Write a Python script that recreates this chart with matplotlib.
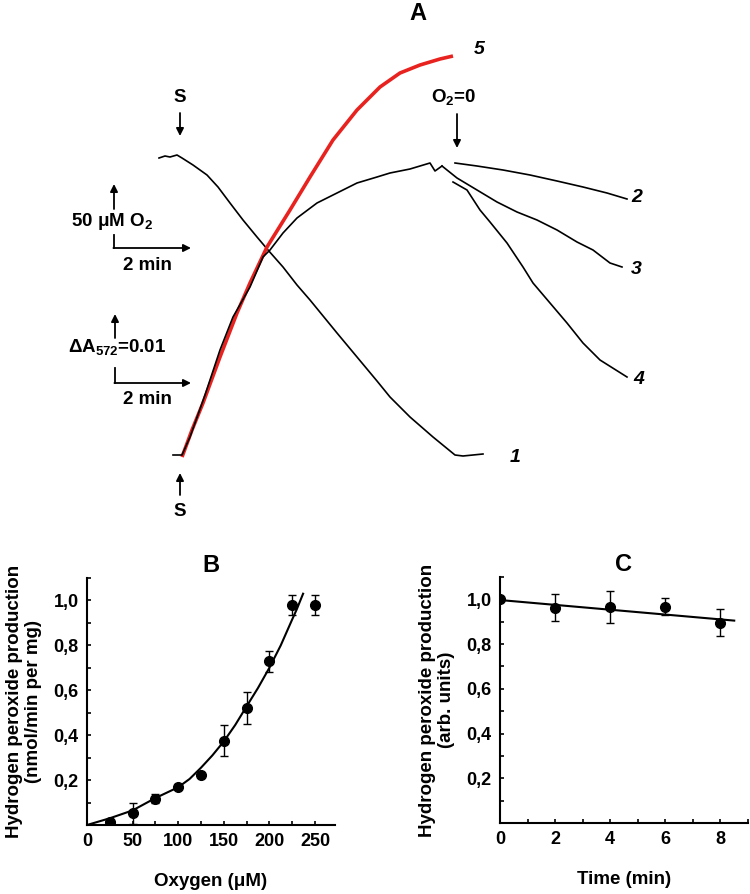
import numpy as np
import matplotlib.pyplot as plt
from matplotlib.ticker import FixedLocator, MultipleLocator, FuncFormatter

plt.rcParams['font.family'] = ['Liberation Sans', 'DejaVu Sans']
plt.rcParams['font.weight'] = 'bold'
plt.rcParams['axes.labelweight'] = 'bold'
plt.rcParams['mathtext.fontset'] = 'custom'
plt.rcParams['mathtext.rm'] = 'Liberation Sans:bold'
plt.rcParams['mathtext.it'] = 'Liberation Sans:bold'
plt.rcParams['mathtext.bf'] = 'Liberation Sans:bold'

# --- panel A: recorder traces (chart units, y grows downward) ---
trace1_x = [159, 165, 170, 177, 182, 193, 207, 218, 230, 243, 257, 268, 283, 297,
            310, 337, 357, 377, 390, 400, 410, 433, 455, 463, 483]
trace1_y = [158, 156, 157, 155, 158, 165, 175, 187, 203, 220, 237, 250, 267, 285,
            300, 333, 357, 381, 397, 407, 417, 437, 455, 456, 454]

rise_x = [173, 182, 190, 205, 220, 233, 250, 263, 270, 283, 297, 317, 337, 357,
          377, 390, 410, 430, 435, 442]
rise_y = [455, 455, 437, 395, 350, 317, 287, 257, 250, 233, 218, 203, 193, 183,
          177, 173, 169, 163, 171, 166]

trace2_x = [455, 477, 503, 530, 557, 583, 607, 627]
trace2_y = [163, 166, 170, 175, 181, 187, 193, 199]

trace3_x = [442, 457, 477, 497, 517, 537, 557, 577, 593, 610, 622]
trace3_y = [166, 178, 190, 202, 212, 220, 230, 242, 250, 263, 267]

trace4_x = [453, 467, 480, 490, 507, 523, 533, 550, 567, 583, 600, 627]
trace4_y = [182, 190, 210, 222, 243, 267, 283, 303, 323, 343, 360, 377]

trace5_x = [182, 192, 203, 220, 237, 250, 267, 290, 310, 333, 357, 380, 400,
            420, 440, 453]
trace5_y = [457, 430, 403, 357, 313, 283, 247, 210, 177, 140, 110, 87, 73,
            65, 59, 56]

# --- panel B ---
oxygen = [25, 50, 75, 100, 125, 150, 175, 200, 225, 250]
rate_b = [0.015, 0.052, 0.116, 0.171, 0.223, 0.376, 0.521, 0.729, 0.978, 0.978]
err_b = [0.0, 0.048, 0.02, 0.012, 0.0, 0.07, 0.073, 0.048, 0.045, 0.045]
fit_b_x = [0, 25, 50, 75, 100, 112.5, 125, 137.5, 150, 162.5, 175, 187.5, 200,
           212.5, 225, 230, 237]
fit_b_y = [0, 0.03, 0.065, 0.12, 0.168, 0.205, 0.255, 0.31, 0.372, 0.445, 0.528,
           0.61, 0.70, 0.80, 0.915, 0.96, 1.03]

# --- panel C ---
time_c = [0, 2, 4, 6, 8]
rate_c = [1.0, 0.963, 0.966, 0.966, 0.896]
err_c = [0.0, 0.061, 0.07, 0.038, 0.062]
fit_c_x = [0, 8.5]
fit_c_y = [0.997, 0.905]

fig = plt.figure(figsize=(7.5, 8.94), dpi=100)

ax0 = fig.add_axes([0, 0, 1, 1])
ax0.set_xlim(0, 750)
ax0.set_ylim(894, 0)
ax0.axis('off')

ax0.plot(trace1_x, trace1_y, color='k', lw=1.2)
ax0.plot(trace5_x, trace5_y, color='#e8231f', lw=2.6, solid_capstyle='butt')
ax0.plot(rise_x, rise_y, color='k', lw=1.2)
ax0.plot(trace2_x, trace2_y, color='k', lw=1.2)
ax0.plot(trace3_x, trace3_y, color='k', lw=1.2)
ax0.plot(trace4_x, trace4_y, color='k', lw=1.2)

lab = dict(fontsize=14, fontweight='bold', fontstyle='italic', ha='left', va='center')
ax0.text(631, 198, '2', **lab)
ax0.text(631, 270, '3', **lab)
ax0.text(633, 380, '4', **lab)
ax0.text(510, 457, '1', **lab)
ax0.text(474, 50, '5', **lab)

ax0.text(418, 14, 'A', fontsize=17, ha='center', va='center')
txt = dict(fontsize=13.5, ha='center', va='center')
ax0.text(180, 97, 'S', **txt)
ax0.text(180, 511, 'S', **txt)
ax0.text(454, 97, 'O$_2$=0', **txt)

arr = dict(arrowstyle='-|>', color='k', lw=1.3, mutation_scale=11, shrinkA=0, shrinkB=0)
ax0.annotate('', xy=(180, 136), xytext=(180, 113), arrowprops=arr)
ax0.annotate('', xy=(457, 148), xytext=(457, 114), arrowprops=arr)
ax0.annotate('', xy=(180, 473), xytext=(180, 495), arrowprops=arr)

# scale bars
ax0.annotate('', xy=(114, 184), xytext=(114, 209), arrowprops=arr)
ax0.plot([114, 114], [235, 248], color='k', lw=1.3)
ax0.annotate('', xy=(191, 248), xytext=(113.4, 248), arrowprops=arr)
ax0.text(112, 222, '50 μM O$_2$', **txt)
ax0.text(147, 265, '2 min', **txt)

ax0.annotate('', xy=(115, 314), xytext=(115, 338), arrowprops=arr)
ax0.plot([115, 115], [368, 383], color='k', lw=1.3)
ax0.annotate('', xy=(191, 383), xytext=(114.4, 383), arrowprops=arr)
ax0.text(117, 347, 'ΔA$_{572}$=0.01', **txt)
ax0.text(147, 400, '2 min', **txt)


def style_axes(ax):
    for s in ['top', 'right']:
        ax.spines[s].set_visible(False)
    for s in ['left', 'bottom']:
        ax.spines[s].set_linewidth(1.5)
    ax.tick_params(which='both', direction='in', length=3, width=1.2,
                   labelsize=13, pad=6)
    ax.yaxis.set_major_locator(FixedLocator([0.2, 0.4, 0.6, 0.8, 1.0]))
    ax.yaxis.set_minor_locator(MultipleLocator(0.1))
    ax.yaxis.set_major_formatter(FuncFormatter(lambda v, p: f'{v:.1f}'.replace('.', ',')))
    ax.set_ylim(0, 1.1)


axB = fig.add_axes([87 / 750, 1 - 825 / 894, 248 / 750, 247 / 894])
style_axes(axB)
axB.plot(fit_b_x, fit_b_y, color='k', lw=1.5)
axB.errorbar(oxygen, rate_b, yerr=err_b, fmt='o', color='k', ms=7,
             capsize=3, elinewidth=1, capthick=1)
axB.set_xlim(0, 272)
axB.set_xticks([0, 50, 100, 150, 200, 250])
axB.xaxis.set_minor_locator(MultipleLocator(25))
axB.set_xlabel('Oxygen (μM)', fontsize=13.5, labelpad=16)
axB.set_ylabel('Hydrogen peroxide production\n(nmol/min per mg)', fontsize=13.5,
               labelpad=8)
axB.set_title('B', fontsize=17, fontweight='bold', pad=4)

axC = fig.add_axes([500 / 750, 1 - 823 / 894, 248 / 750, 246 / 894])
style_axes(axC)
axC.plot(fit_c_x, fit_c_y, color='k', lw=1.5)
axC.errorbar(time_c, rate_c, yerr=err_c, fmt='o', color='k', ms=7,
             capsize=3, elinewidth=1, capthick=1)
axC.set_xlim(0, 9.0)
axC.set_xticks([0, 2, 4, 6, 8])
axC.xaxis.set_minor_locator(MultipleLocator(1))
axC.set_xlabel('Time (min)', fontsize=13.5, labelpad=16)
axC.set_ylabel('Hydrogen peroxide production\n(arb. units)', fontsize=13.5,
               labelpad=8)
axC.set_title('C', fontsize=17, fontweight='bold', pad=4)

fig.savefig('out.png', dpi=100)
